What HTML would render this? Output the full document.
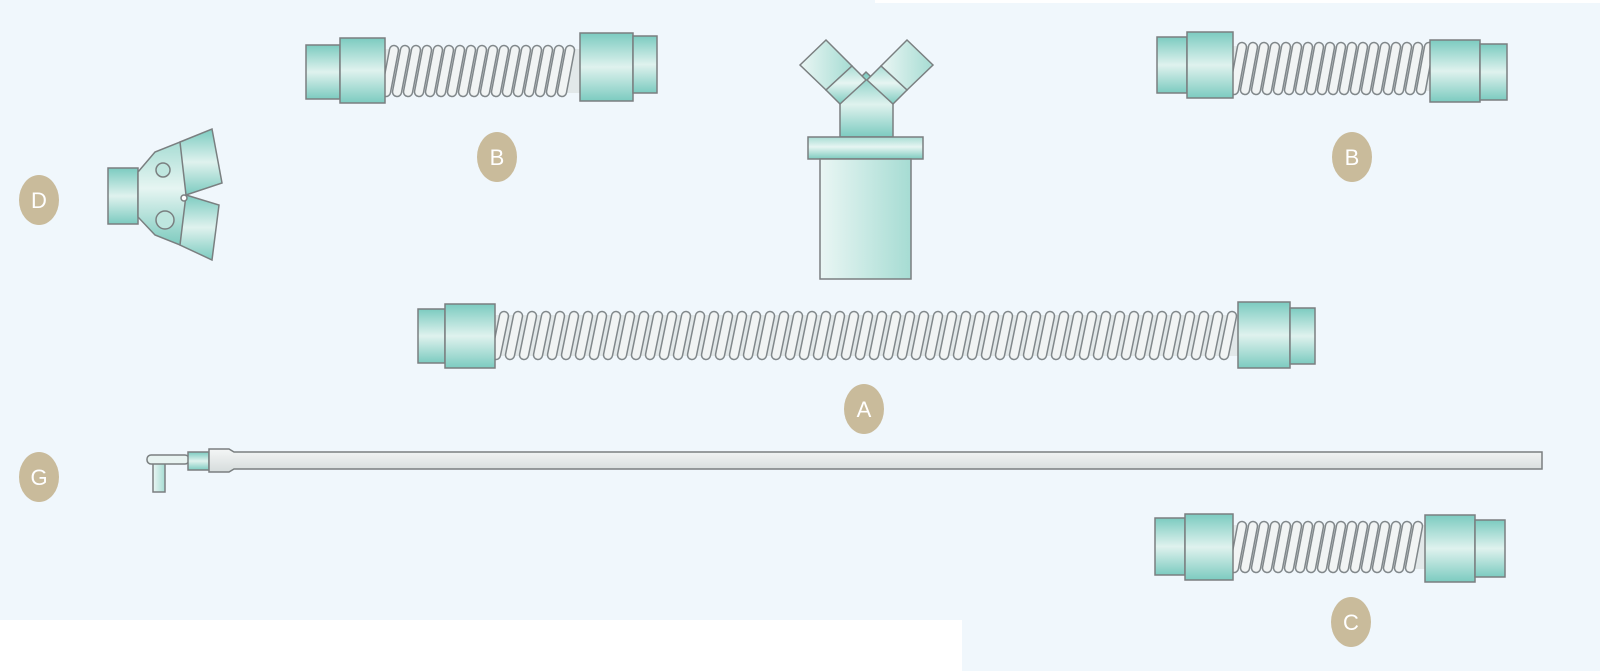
<!DOCTYPE html>
<html><head><meta charset="utf-8"><style>
html,body{margin:0;padding:0;width:1600px;height:671px;overflow:hidden;background:#f0f7fc}
svg{display:block}
</style></head><body>
<svg id="s" width="1600" height="671" viewBox="0 0 1600 671" xmlns="http://www.w3.org/2000/svg">
<defs>
<linearGradient id="tv" x1="0" y1="0" x2="0" y2="1"><stop offset="0" stop-color="#7ccbc0"/><stop offset="0.5" stop-color="#dff2ee"/><stop offset="1" stop-color="#7ccbc0"/></linearGradient>
<linearGradient id="tv2" x1="0" y1="0" x2="0" y2="1"><stop offset="0" stop-color="#a8ddd4"/><stop offset="0.45" stop-color="#e6f5f2"/><stop offset="1" stop-color="#7ecbbf"/></linearGradient>
<linearGradient id="th" x1="0" y1="0" x2="1" y2="0"><stop offset="0" stop-color="#eaf6f4"/><stop offset="1" stop-color="#a6dcd3"/></linearGradient>
<linearGradient id="tube" x1="0" y1="0" x2="0" y2="1"><stop offset="0" stop-color="#f4f6f6"/><stop offset="1" stop-color="#d6dcdc"/></linearGradient>
</defs>
<rect x="0" y="620" width="962" height="51" fill="#ffffff"/>
<rect x="875" y="0" width="725" height="3" fill="#ffffff"/>
<g id="g" stroke="#7a7f80" stroke-width="1.5"></g>
<g font-family="Liberation Sans, sans-serif" font-size="22" fill="#fff" text-anchor="middle">
<ellipse cx="497" cy="157" rx="20" ry="25" fill="#c9bb9b"/><text x="497" y="165">B</text>
<ellipse cx="1352" cy="157" rx="20" ry="25" fill="#c9bb9b"/><text x="1352" y="165">B</text>
<ellipse cx="864" cy="409" rx="20" ry="25" fill="#c9bb9b"/><text x="864" y="417">A</text>
<ellipse cx="1351" cy="622" rx="20" ry="25" fill="#c9bb9b"/><text x="1351" y="630">C</text>
<ellipse cx="39" cy="200" rx="20" ry="25" fill="#c9bb9b"/><text x="39" y="208">D</text>
<ellipse cx="39" cy="477" rx="20" ry="25" fill="#c9bb9b"/><text x="39" y="485">G</text>
</g>
</svg>
<script>
var g=document.getElementById('g'),h='';
function R(x,y,w,hh,f){h+='<rect x="'+x+'" y="'+y+'" width="'+w+'" height="'+hh+'" fill="'+(f||'url(#tv)')+'"/>';}
function hose(a){
 var [sx,sy1,sy2,bx,by1,by2,cx1,cx2,b2y1,b2y2,s2x,s2y1,s2y2,ex,cy1,cy2,p]=a;
 h+='<rect x="'+(cx1-4)+'" y="'+(cy1+4)+'" width="'+(cx2-cx1+8)+'" height="'+(cy2-cy1-8)+'" fill="#e2e8e9" stroke="none"/>';
 for(var x=cx1+5;x<cx2-3;x+=p){
  var d='M'+(x+4)+' '+(cy1+5)+' L'+(x-4)+' '+(cy2-5);
  h+='<path d="'+d+'" stroke="#80878a" stroke-width="10.5" stroke-linecap="round" fill="none"/>';
  h+='<path d="'+d+'" stroke="#f1f4f4" stroke-width="7.5" stroke-linecap="round" fill="none"/>';
 }
 R(sx,sy1,bx-sx,sy2-sy1);R(bx,by1,cx1-bx,by2-by1);
 R(cx2,b2y1,s2x-cx2,b2y2-b2y1);R(s2x,s2y1,ex-s2x,s2y2-s2y1);
}
hose([306,45,99,340,38,103,385,580,33,101,633,36,93,657,45,97,11]);
hose([1157,37,93,1187,32,98,1233,1430,40,102,1480,44,100,1507,42,95,11]);
hose([418,309,363,445,304,368,495,1238,302,368,1290,308,364,1315,311,360,14]);
hose([1155,518,575,1185,514,580,1233,1425,515,582,1475,520,577,1505,521,573,11]);
// E
h+='<polygon points="840,137 840,98 866,72 893,98 893,137" fill="url(#tv)"/>';
h+='<polygon points="800,65 826,40 852,66 826,90" fill="url(#th)"/><polygon points="826,90 852,66 866,80 840,104" fill="url(#tv2)"/>';
h+='<polygon points="933,65 907,40 881,66 907,90" fill="url(#th)"/><polygon points="907,90 881,66 867,80 893,104" fill="url(#tv2)"/>';
R(808,137,115,22,'url(#tv2)');R(820,159,91,120,'url(#th)');
// D
h+='<rect x="108" y="168" width="30" height="56" fill="url(#tv)"/>';
h+='<polygon points="138,172 155,152 180,142 188,193 180,245 155,235 138,217" fill="url(#tv2)"/>';
h+='<polygon points="180,142 212,129 222,183 186,195" fill="url(#tv)"/><polygon points="186,195 219,205 212,260 180,245" fill="url(#tv)"/>';
h+='<circle cx="163" cy="170" r="7" fill="#bfe6df"/><circle cx="165" cy="220" r="9" fill="#bfe6df"/><circle cx="184" cy="198" r="3" fill="#fff"/>';
// G
h+='<rect x="153" y="462" width="12" height="30" fill="url(#th)"/>';
h+='<rect x="147" y="455" width="42" height="9" rx="4" fill="#e8f3f1"/>';
h+='<rect x="188" y="452" width="21" height="18" fill="url(#tv)"/>';
h+='<path d="M209 449 h20 l5 3 h1308 v17 h-1308 l-5 3 h-20z" fill="url(#tube)"/>';
g.innerHTML=h;
</script>
</body></html>
